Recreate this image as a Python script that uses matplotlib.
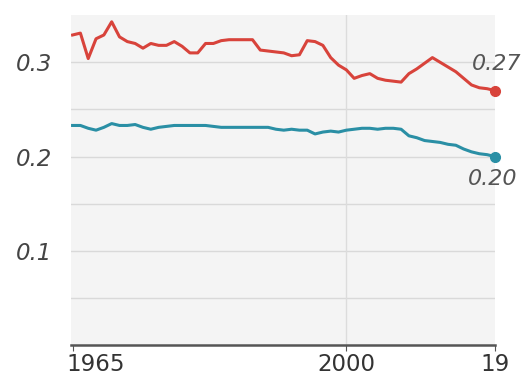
import matplotlib
matplotlib.use('Agg')
import matplotlib.pyplot as plt
import matplotlib.transforms as mtransforms
import numpy as np

years = list(range(1965, 2020))
red = [0.329, 0.331, 0.304, 0.325, 0.329, 0.343, 0.327, 0.322, 0.320, 0.315,
       0.320, 0.318, 0.318, 0.322, 0.317, 0.310, 0.310, 0.320, 0.320, 0.323,
       0.324, 0.324, 0.324, 0.324, 0.313, 0.312, 0.311, 0.310, 0.307, 0.308,
       0.323, 0.322, 0.318, 0.305, 0.297, 0.292, 0.283, 0.286, 0.288, 0.283,
       0.281, 0.280, 0.279, 0.288, 0.293, 0.299, 0.305, 0.300, 0.295, 0.290,
       0.283, 0.276, 0.273, 0.272, 0.270]
teal = [0.233, 0.233, 0.230, 0.228, 0.231, 0.235, 0.233, 0.233, 0.234, 0.231,
        0.229, 0.231, 0.232, 0.233, 0.233, 0.233, 0.233, 0.233, 0.232, 0.231,
        0.231, 0.231, 0.231, 0.231, 0.231, 0.231, 0.229, 0.228, 0.229, 0.228,
        0.228, 0.224, 0.226, 0.227, 0.226, 0.228, 0.229, 0.230, 0.230, 0.229,
        0.230, 0.230, 0.229, 0.222, 0.220, 0.217, 0.216, 0.215, 0.213, 0.212,
        0.208, 0.205, 0.203, 0.202, 0.200]
yticks = [0.1, 0.2, 0.3]
xticks = [1965, 2000, 2019]
xlabels = ['1965', '2000', '19']

RED = '#d8433b'
TEAL = '#2a8fa5'

fig = plt.figure(figsize=(5.26, 3.8), dpi=100)
ax = fig.add_axes([0.135, 0.092, 0.806, 0.868])
ax.set_facecolor('#f4f4f4')

for v in np.arange(0.05, 0.35, 0.05):
    ax.axhline(v, color='#d9d9d9', lw=1, zorder=1)
ax.axvline(2000, color='#dcdcdc', lw=1, zorder=1)

ax.plot(years, red, color=RED, lw=2.2, zorder=3)
ax.plot(years, teal, color=TEAL, lw=2.2, zorder=3)
ax.plot(years[-1], red[-1], 'o', color=RED, ms=7, clip_on=False, zorder=4)
ax.plot(years[-1], teal[-1], 'o', color=TEAL, ms=7, clip_on=False, zorder=4)

ax.annotate('%.2f' % red[-1], (years[-1], red[-1]), xytext=(19, 12),
            textcoords='offset points', ha='right', va='bottom',
            fontsize=16, style='italic', color='#555555')
ax.annotate('%.2f' % teal[-1], (years[-1], teal[-1]), xytext=(16, -9),
            textcoords='offset points', ha='right', va='top',
            fontsize=16, style='italic', color='#555555')

ax.set_xlim(1964.8, 2018.9)
ax.set_ylim(0, 0.35)

ax.set_yticks(yticks)
ax.set_yticklabels([str(t) for t in yticks], fontsize=16.5, style='italic',
                   color='#444444', ha='left')
ax.tick_params(axis='y', length=0, pad=40)

ax.set_xticks(xticks)
ax.set_xticklabels(xlabels, fontsize=16.5, color='#333333')
ax.tick_params(axis='x', length=4, color='#555555', pad=2)
labs = ax.get_xticklabels()
labs[0].set_ha('left')
labs[0].set_transform(labs[0].get_transform() +
                      mtransforms.ScaledTranslation(-6 / 100, 0, fig.dpi_scale_trans))

for s in ['top', 'right', 'left']:
    ax.spines[s].set_visible(False)
ax.spines['bottom'].set_color('#555555')
ax.spines['bottom'].set_linewidth(1.8)

fig.savefig('out.png', dpi=100)
